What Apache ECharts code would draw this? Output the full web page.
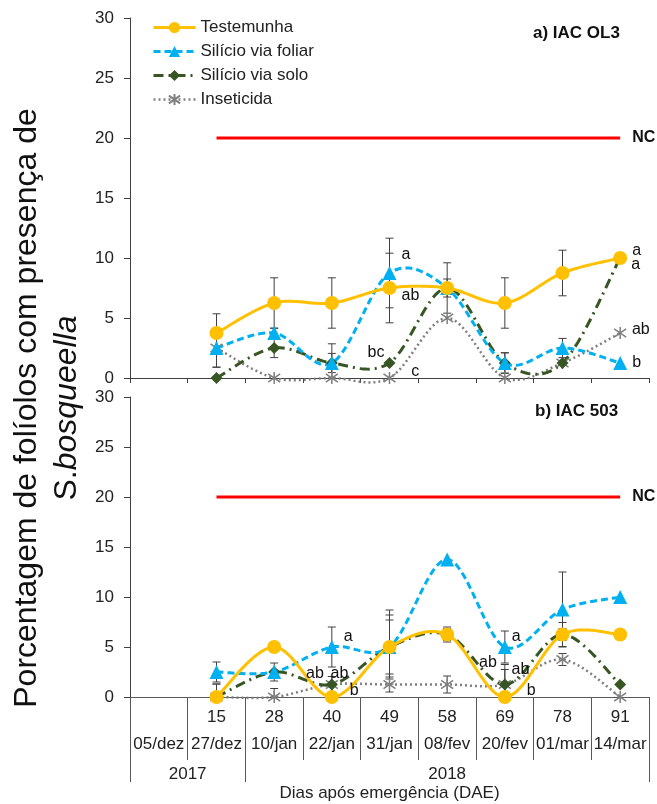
<!DOCTYPE html>
<html>
<head>
<meta charset="utf-8">
<script src="https://cdn.jsdelivr.net/npm/echarts@6/dist/echarts.min.js"></script>
<style>
html, body { margin: 0; padding: 0; background: #fff; }
#myChart { width: 657px; height: 804px; }
</style>
</head>
<body>
<div id="myChart"></div>
<script>
var daeLabels = ['', '15', '28', '40', '49', '58', '69', '78', '91'];
var dateLabels = ['05/dez', '27/dez', '10/jan', '22/jan', '31/jan', '08/fev', '20/fev', '01/mar', '14/mar'];
var yearLabels = ['2017', '2018'];
var yearSpans = [2, 7];
var seriesNames = ['Testemunha', 'Silício via foliar', 'Silício via solo', 'Inseticida'];
var ncLevel = [null, 20, 20, 20, 20, 20, 20, 20, 20];

// a) IAC OL3
var ol3Testemunha = [null, 3.75, 6.25, 6.25, 7.5, 7.5, 6.25, 8.75, 10];
var ol3Foliar = [null, 2.5, 3.75, 1.25, 8.75, 7.5, 1.25, 2.5, 1.25];
var ol3Solo = [null, 0, 2.5, 1.25, 1.25, 7.5, 1.25, 1.25, 10];
var ol3Inseticida = [null, 2.5, 0, 0, 0, 5, 0, 1.25, 3.75];
var ol3ErrTestemunha = [0, 1.6, 2.1, 2.1, 2.9, 2.1, 2.1, 1.9, 0];
var ol3ErrFoliar = [0, 1.6, 0.4, 0.8, 2.9, 0, 0.85, 0.8, 0];
var ol3ErrSolo = [0, 0, 0.8, 1.6, 0, 0.75, 0.85, 0, 0];
var ol3ErrInseticida = [0, 1.6, 0, 0, 0, 0, 0, 0, 0];
var ol3LetTestemunha = ['', '', '', '', 'ab', '', '', '', 'a'];
var ol3LetFoliar = ['', '', '', '', 'a', '', '', '', 'b'];
var ol3LetSolo = ['', '', '', '', 'bc', '', '', '', 'a'];
var ol3LetInseticida = ['', '', '', '', 'c', '', '', '', 'ab'];

// b) IAC 503
var c503Testemunha = [null, 0, 5, 0, 5, 6.25, 0, 6.25, 6.25];
var c503Foliar = [null, 2.5, 2.5, 5, 5, 13.75, 5, 8.75, 10];
var c503Solo = [null, 0, 2.5, 1.25, 5, 6.25, 1.25, 6.25, 1.25];
var c503Inseticida = [null, 0, 0, 1.25, 1.25, 1.25, 1.25, 3.75, 0];
var c503ErrTestemunha = [0, 0, 0, 0, 3.7, 0.75, 0, 1.2, 0];
var c503ErrFoliar = [0, 1, 0, 2, 3.2, 0, 1.6, 3.75, 0];
var c503ErrSolo = [0, 1.3, 0.9, 0.8, 2.7, 0.6, 2, 0.6, 0];
var c503ErrInseticida = [0, 1.3, 0.85, 0.8, 0.75, 0.85, 1.5, 0.6, 0];
var c503LetTestemunha = ['', '', '', 'b', '', '', 'b', '', ''];
var c503LetFoliar = ['', '', '', 'a', '', '', 'a', '', ''];
var c503LetSolo = ['', '', '', 'ab', '', '', 'ab', '', ''];
var c503LetInseticida = ['', '', '', 'ab', '', '', 'ab', '', ''];

var Chart = {};
Chart.font = 'Arial, "Liberation Sans", sans-serif';
Chart.colors = ['#FFC000', '#00B0F0', '#375623', '#7F7F7F'];
Chart.asterisk = 'path://M-7,-7 L7,7 M-7,7 L7,-7 M0,-10 L0,10';

// where the significance letters sit next to their point
Chart.letterPlace = {
	'0-0-4': ['right', [0, 8]],
	'0-1-4': ['right', [0, -18]],
	'0-2-4': ['left', [6, -10]],
	'0-3-4': ['right', [10, -6]],
	'0-0-8': ['right', [0, -7]],
	'0-2-8': ['right', [0, 7]],
	'0-3-8': ['right', [0, -3]],
	'0-1-8': ['right', [0, 0]],
	'1-1-3': ['right', [0, -10]],
	'1-2-3': ['left', [3, -11]],
	'1-3-3': ['right', [-13, -11]],
	'1-0-3': ['right', [6, -6]],
	'1-1-6': ['right', [-5, -10]],
	'1-2-6': ['left', [3, -22]],
	'1-3-6': ['right', [-5, -15]],
	'1-0-6': ['right', [10, -6]]
};

Chart.styles = [
	{ symbol: 'circle', symbolSize: 14, line: { width: 3, type: 'solid', dash: null } },
	{ symbol: 'triangle', symbolSize: 14, line: { width: 3, type: [7, 4], dash: [7, 4] } },
	{ symbol: 'diamond', symbolSize: 12, line: { width: 3, type: [10, 5, 2, 5], dash: [10, 5, 2, 5] } },
	{ symbol: Chart.asterisk, symbolSize: 12, line: { width: 2.5, type: [2, 3], dash: [2, 3] } }
];

Chart.buildData = function(panel, s, values, letters) {
	var out = [];
	for (var i = 0; i < values.length; i++) {
		var item = { value: values[i] };
		var place = Chart.letterPlace[panel + '-' + s + '-' + i];
		if (letters[i] && place) {
			item.label = {
				show: true,
				formatter: letters[i],
				position: place[0],
				offset: place[1],
				distance: 5,
				color: '#111',
				fontSize: 16,
				fontFamily: Chart.font
			};
		}
		out[out.length] = item;
	}
	return out;
};

// markers + letters; the curve itself is drawn by curveSeries
Chart.markerSeries = function(panel, s, values, letters) {
	var st = Chart.styles[s];
	var isStar = s === 3;
	return {
		name: seriesNames[s],
		type: 'line',
		xAxisIndex: panel === 0 ? 0 : 1,
		yAxisIndex: panel,
		data: Chart.buildData(panel, s, values, letters),
		symbol: st.symbol,
		symbolSize: st.symbolSize,
		showAllSymbol: true,
		z: 4 + (3 - s),
		color: Chart.colors[s],
		lineStyle: { color: Chart.colors[s], width: st.line.width, type: st.line.type, opacity: 0 },
		itemStyle: isStar ? { color: Chart.colors[s], borderColor: Chart.colors[s], borderWidth: 1.5 } : { color: Chart.colors[s] },
		label: { show: false }
	};
};

// Excel-like smoothed curve (Catmull-Rom bezier) through the axis coordinates
Chart.curveSeries = function(panel, s, values) {
	var st = Chart.styles[s];
	return {
		type: 'custom',
		xAxisIndex: panel === 0 ? 0 : 1,
		yAxisIndex: panel,
		z: 3 + (3 - s) * 0.1,
		silent: true,
		data: [[0, 0]],
		renderItem: function(params, api) {
			var pts = [];
			for (var i = 0; i < values.length; i++) {
				if (values[i] != null) {
					pts[pts.length] = api.coord([i, values[i]]);
				}
			}
			var out = [pts[0]];
			for (var k = 0; k < pts.length - 1; k++) {
				var p0 = pts[k - 1] || pts[k];
				var p1 = pts[k];
				var p2 = pts[k + 1];
				var p3 = pts[k + 2] || pts[k + 1];
				var c1 = [p1[0] + (p2[0] - p0[0]) / 6, p1[1] + (p2[1] - p0[1]) / 6];
				var c2 = [p2[0] - (p3[0] - p1[0]) / 6, p2[1] - (p3[1] - p1[1]) / 6];
				for (var n = 1; n <= 20; n++) {
					var t = n / 20, u = 1 - t;
					out[out.length] = [
						u * u * u * p1[0] + 3 * u * u * t * c1[0] + 3 * u * t * t * c2[0] + t * t * t * p2[0],
						u * u * u * p1[1] + 3 * u * u * t * c1[1] + 3 * u * t * t * c2[1] + t * t * t * p2[1]
					];
				}
			}
			return {
				type: 'polyline',
				shape: { points: out },
				style: { stroke: Chart.colors[s], lineWidth: st.line.width, lineDash: st.line.dash, fill: null }
			};
		}
	};
};

Chart.errorSeries = function(panel, valueSets, errSets) {
	var data = [];
	for (var s = 0; s < valueSets.length; s++) {
		for (var i = 0; i < valueSets[s].length; i++) {
			if (valueSets[s][i] != null && errSets[s][i] > 0) {
				data[data.length] = [i, valueSets[s][i], errSets[s][i]];
			}
		}
	}
	return {
		type: 'custom',
		xAxisIndex: panel === 0 ? 0 : 1,
		yAxisIndex: panel,
		z: 1,
		silent: true,
		data: data,
		renderItem: function(params, api) {
			var x = api.value(0), y = api.value(1), e = api.value(2);
			var hi = api.coord([x, y + e]);
			var lo = api.coord([x, Math.max(0, y - e)]);
			var w = 4;
			var st = { stroke: '#404040', lineWidth: 1 };
			return {
				type: 'group',
				children: [
					{ type: 'line', shape: { x1: hi[0], y1: hi[1], x2: lo[0], y2: lo[1] }, style: st },
					{ type: 'line', shape: { x1: hi[0] - w, y1: hi[1], x2: hi[0] + w, y2: hi[1] }, style: st },
					{ type: 'line', shape: { x1: lo[0] - w, y1: lo[1], x2: lo[0] + w, y2: lo[1] }, style: st }
				]
			};
		}
	};
};

Chart.ncSeries = function(panel) {
	return {
		name: 'NC',
		type: 'line',
		xAxisIndex: panel === 0 ? 0 : 1,
		yAxisIndex: panel,
		data: ncLevel,
		symbol: 'none',
		silent: true,
		z: 2,
		lineStyle: { color: '#FF0000', width: 3 },
		endLabel: {
			show: true,
			formatter: 'NC',
			distance: 12,
			color: '#111',
			fontWeight: 'bold',
			fontSize: 16,
			fontFamily: Chart.font
		}
	};
};

Chart.yAxis = function(panel) {
	return {
		type: 'value',
		gridIndex: panel,
		min: 0,
		max: 30,
		interval: 5,
		splitLine: { show: false },
		axisLine: { show: true, lineStyle: { color: '#404040', width: 1 } },
		axisTick: { show: true, length: 6, lineStyle: { color: '#404040' } },
		axisLabel: { margin: 16, fontSize: 17, color: '#222', fontFamily: Chart.font }
	};
};

Chart.initPage = function() {
	var myChart = echarts.init(document.getElementById('myChart'));

	// year row: boundaries and middles from the spans
	var yearBounds = [0];
	var yearMids = [];
	for (var k = 0; k < yearSpans.length; k++) {
		yearMids[yearMids.length] = yearBounds[k] + yearSpans[k] / 2;
		yearBounds[yearBounds.length] = yearBounds[k] + yearSpans[k];
	}

	var panels = [
		{ values: [ol3Testemunha, ol3Foliar, ol3Solo, ol3Inseticida],
			errs: [ol3ErrTestemunha, ol3ErrFoliar, ol3ErrSolo, ol3ErrInseticida],
			letters: [ol3LetTestemunha, ol3LetFoliar, ol3LetSolo, ol3LetInseticida] },
		{ values: [c503Testemunha, c503Foliar, c503Solo, c503Inseticida],
			errs: [c503ErrTestemunha, c503ErrFoliar, c503ErrSolo, c503ErrInseticida],
			letters: [c503LetTestemunha, c503LetFoliar, c503LetSolo, c503LetInseticida] }
	];

	var series = [];
	for (var p = 0; p < panels.length; p++) {
		series.push(Chart.ncSeries(p));
		series.push(Chart.errorSeries(p, panels[p].values, panels[p].errs));
		for (var s = 0; s < 4; s++) {
			series.push(Chart.curveSeries(p, s, panels[p].values[s]));
			series.push(Chart.markerSeries(p, s, panels[p].values[s], panels[p].letters[s]));
		}
	}

	var legendData = [];
	for (var j = 0; j < seriesNames.length; j++) {
		var st = Chart.styles[j];
		legendData[legendData.length] = {
			name: seriesNames[j],
			lineStyle: { color: Chart.colors[j], width: st.line.width, type: st.line.type, opacity: 1 }
		};
	}

	var option = {
		animation: false,
		backgroundColor: '#fff',
		textStyle: { fontFamily: Chart.font },
		title: [
			{ text: 'a) IAC OL3', left: 533, top: 25, padding: 0,
				textStyle: { fontSize: 17, fontWeight: 'bold', color: '#111', fontFamily: Chart.font } },
			{ text: 'b) IAC 503', left: 535, top: 403, padding: 0,
				textStyle: { fontSize: 17, fontWeight: 'bold', color: '#111', fontFamily: Chart.font } }
		],
		legend: {
			data: legendData,
			orient: 'vertical',
			left: 152,
			top: 19,
			padding: 0,
			itemGap: 7,
			itemWidth: 42,
			itemHeight: 14,
			textStyle: { fontSize: 17, color: '#222', fontFamily: Chart.font }
		},
		grid: [
			{ left: 130, right: 8, top: 18, height: 360 },
			{ left: 130, right: 8, top: 397, height: 300 }
		],
		xAxis: [
			{
				type: 'category', gridIndex: 0, data: daeLabels, boundaryGap: true,
				axisLine: { onZero: false, lineStyle: { color: '#404040' } },
				axisTick: { show: true, interval: 0, length: 5, lineStyle: { color: '#404040' } },
				axisLabel: { show: false }
			},
			{
				type: 'category', gridIndex: 1, data: daeLabels, boundaryGap: true, position: 'bottom',
				axisLine: { onZero: false, lineStyle: { color: '#595959' } },
				axisTick: { show: true, interval: 0, length: 63, lineStyle: { color: '#595959' } },
				axisLabel: { interval: 0, margin: 12, fontSize: 17, color: '#222', fontFamily: Chart.font }
			},
			{
				type: 'category', gridIndex: 1, data: dateLabels, boundaryGap: true, position: 'bottom',
				axisLine: { show: false, onZero: false },
				axisTick: { show: false },
				axisLabel: { interval: 0, margin: 39, fontSize: 17, color: '#222', fontFamily: Chart.font }
			},
			{
				type: 'value', gridIndex: 1, min: 0, max: 9, position: 'bottom', offset: 63,
				splitLine: { show: false },
				axisLine: { show: false, onZero: false },
				axisTick: { show: true, customValues: yearBounds, length: 22, lineStyle: { color: '#595959' } },
				axisLabel: {
					customValues: yearMids, margin: 6, fontSize: 17, color: '#222', fontFamily: Chart.font,
					formatter: function(v) {
						for (var j = 0; j < yearMids.length; j++) {
							if (Math.abs(yearMids[j] - v) < 1e-6) return yearLabels[j];
						}
						return '';
					}
				},
				name: 'Dias após emergência (DAE)',
				nameLocation: 'middle',
				nameGap: 25,
				nameTextStyle: { fontSize: 17, color: '#222', fontFamily: Chart.font }
			}
		],
		yAxis: [Chart.yAxis(0), Chart.yAxis(1)],
		graphic: [{
			type: 'text',
			x: 47,
			y: 408,
			rotation: Math.PI / 2,
			style: {
				text: 'Porcentagem de folíolos com presença de\n{n|S.}{i|bosqueella}',
				align: 'center',
				verticalAlign: 'middle',
				fontSize: 32,
				lineHeight: 40,
				fontFamily: Chart.font,
				fill: '#111',
				rich: {
					n: { fontSize: 32, lineHeight: 40, fontFamily: Chart.font, fill: '#111' },
					i: { fontSize: 32, lineHeight: 40, fontStyle: 'italic', fontFamily: Chart.font, fill: '#111' }
				}
			}
		}],
		series: series
	};

	myChart.setOption(option);
};

Chart.initPage();
</script>
</body>
</html>
